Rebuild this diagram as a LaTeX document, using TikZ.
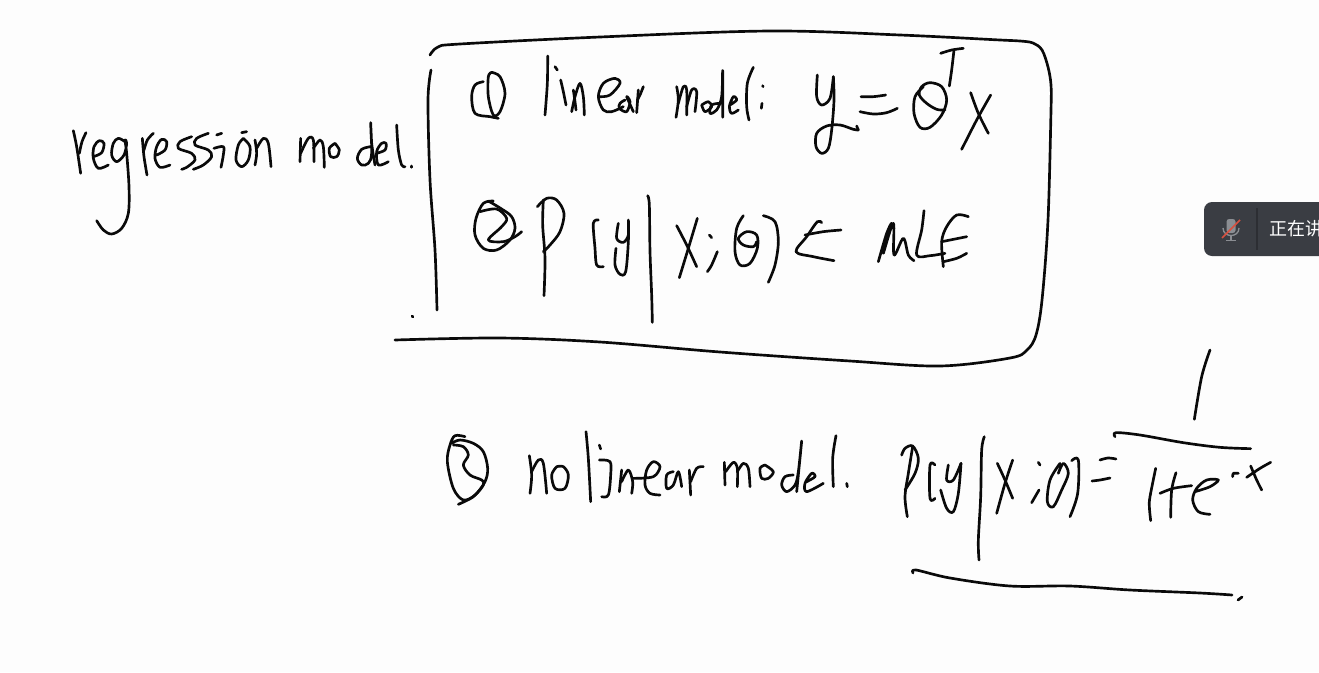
\documentclass[tikz,border=0pt]{standalone}
\usepackage{fontspec}
\newfontfamily\cjkfont{Noto Sans CJK SC}
\definecolor{paper}{HTML}{FDFDFD}
\definecolor{inkc}{HTML}{0A0A0A}
\definecolor{barc}{HTML}{3A3D43}
\definecolor{sepc}{HTML}{2C2E33}
\definecolor{micc}{HTML}{8A8D92}
\definecolor{slashc}{HTML}{D9503F}
\tikzset{
  inkline/.style={draw=inkc,line width=2pt,line cap=round,line join=round},
  zoomed/.style={shift={#1},scale=0.33333}
}
\newcommand\inkstroke[1]{\draw[inkline] plot[smooth,tension=0.55] coordinates {#1};}
\begin{document}
\begin{tikzpicture}[x=0.75pt,y=-0.75pt]
\useasboundingbox (0,0) rectangle (1319,672);
\clip (0,0) rectangle (1319,672);
\fill[paper] (0,0) rectangle (1319,672);
% big box
\inkstroke{(430,55)(438,47)(460,44)(600,37)(770,31)(900,35)(1000,40)(1020,41)(1033,43)(1042,50)(1048,67)(1051,85)(1051,110)(1048,220)(1042,300)(1036,335)(1027,350)(1010,358)(940,366)(850,361)(720,352)(600,342)(500,338)(395,340)}
\inkstroke{(431,70)(428,100)(430,180)(435,250)(437,310)}
\inkstroke{(412,316)(413,317)}
% regression model.
\begin{scope}[zoomed={(60,110)}]
\inkstroke{(40,62)(50,110)(62,190)}
\inkstroke{(58,130)(66,95)(78,68)}
\inkstroke{(100,140)(125,128)(132,100)(118,92)(102,110)(100,145)(115,175)(145,165)}
\inkstroke{(195,95)(175,85)(160,100)(155,135)(170,155)(192,135)(200,100)(195,90)(200,130)(207,230)(205,310)(185,355)(155,372)(130,360)(110,332)}
\inkstroke{(247,85)(252,140)(261,195)}
\inkstroke{(252,120)(262,90)(280,70)}
\inkstroke{(290,135)(315,120)(320,95)(305,88)(290,110)(285,145)(300,172)(330,165)}
\inkstroke{(395,80)(360,95)(355,115)(395,130)(405,150)(380,172)(365,178)}
\inkstroke{(445,70)(410,85)(405,105)(445,120)(455,140)(430,165)(400,178)}
\inkstroke{(462,115)(490,110)(490,135)(483,172)}
\inkstroke{(470,75)(485,70)}
\inkstroke{(550,85)(535,105)(528,150)(545,170)(565,150)(570,110)(550,85)}
\inkstroke{(545,68)(560,65)}
\inkstroke{(585,90)(590,130)(585,165)}
\inkstroke{(590,115)(610,85)(625,100)(633,170)}
\inkstroke{(722,85)(720,155)}
\inkstroke{(722,130)(745,85)(760,90)(762,155)}
\inkstroke{(760,115)(780,90)(790,110)(793,172)}
\inkstroke{(825,100)(808,115)(812,140)(830,140)(838,120)(825,100)}
\inkstroke{(932,110)(905,118)(892,145)(905,165)(925,160)(935,130)(932,38)(935,100)(945,165)}
\inkstroke{(950,130)(975,120)(978,100)(965,100)(950,125)(955,165)(985,155)}
\inkstroke{(1010,45)(1015,120)(1025,165)(1035,170)}
\inkstroke{(1054,168)(1054,172)}
\end{scope}
% circled 1, linear model
\begin{scope}[zoomed={(460,40)}]
\inkstroke{(70,125)(45,135)(35,170)(45,220)(90,230)(115,235)}
\inkstroke{(95,97)(120,110)(135,160)(120,215)(100,225)(85,170)(85,110)(95,97)}
\inkstroke{(263,48)(262,130)(255,225)}
\inkstroke{(285,80)(292,90)}
\inkstroke{(302,120)(310,155)(318,195)}
\inkstroke{(335,215)(345,170)(360,130)(370,170)(373,225)}
\inkstroke{(340,150)(345,185)(348,210)}
\inkstroke{(420,170)(450,165)(480,130)(465,115)(430,130)(415,170)(430,210)(455,215)(490,200)}
\inkstroke{(495,180)(480,190)(478,205)(500,215)(510,185)(500,170)(520,215)}
\inkstroke{(535,150)(530,218)}
\inkstroke{(532,180)(540,165)(550,140)}
\inkstroke{(650,140)(655,180)(648,232)}
\inkstroke{(655,190)(670,140)(680,150)(680,225)}
\inkstroke{(680,200)(695,150)(710,155)(705,215)}
\inkstroke{(725,195)(735,215)(755,200)(745,185)(725,195)}
\inkstroke{(780,190)(755,195)(750,220)(770,210)(785,170)(788,92)(788,232)}
\inkstroke{(810,195)(830,180)(820,170)(808,200)(815,220)(835,210)}
\inkstroke{(880,82)(862,130)(860,200)(867,240)}
\end{scope}
% colon, y = theta^T x
\begin{scope}[zoomed={(760,40)}]
\inkstroke{(8,137)(9,140)}
\inkstroke{(6,190)(4,205)}
\inkstroke{(172,105)(170,170)(185,195)(210,175)(220,110)}
\inkstroke{(220,110)(222,180)(215,270)(205,325)(185,340)(168,320)(170,280)(200,258)(240,255)(280,268)(295,270)}
\inkstroke{(290,258)(295,270)}
\inkstroke{(303,170)(340,170)(377,165)}
\inkstroke{(300,215)(340,222)(380,218)(412,205)}
\inkstroke{(490,140)(465,170)(462,220)(480,262)(510,262)(545,225)(560,180)(545,140)(510,128)(485,140)(478,165)(500,190)(530,208)(555,210)}
\inkstroke{(542,40)(575,30)(610,25)}
\inkstroke{(582,30)(575,90)(568,138)}
\inkstroke{(632,158)(655,220)(685,280)}
\inkstroke{(692,165)(650,240)(605,328)}
\end{scope}
% circled 2, P(y|x;theta)
\begin{scope}[zoomed={(460,185)}]
\inkstroke{(100,48)(70,55)(48,100)(45,150)(70,190)(110,195)(150,165)(165,130)(155,95)(125,72)(85,48)}
\inkstroke{(60,80)(110,72)(140,100)(125,125)(85,165)(130,170)(165,155)(185,140)}
\inkstroke{(250,45)(248,120)(255,220)(252,332)}
\inkstroke{(232,65)(260,40)(290,45)(312,85)(300,140)(270,180)(250,200)}
\inkstroke{(415,105)(400,115)(405,190)(410,240)(430,245)}
\inkstroke{(475,115)(470,160)(490,172)(505,150)(505,105)(505,170)(497,260)(480,268)(465,240)(468,190)}
\inkstroke{(563,32)(568,60)(570,200)(575,330)(577,412)}
\inkstroke{(650,122)(680,180)(710,245)}
\inkstroke{(712,100)(685,190)(658,278)}
\inkstroke{(748,150)(755,158)}
\inkstroke{(772,200)(755,240)(742,260)}
\inkstroke{(850,92)(830,130)(825,200)(840,240)(870,235)(892,190)(890,150)(860,140)(835,160)(850,180)(880,185)(890,170)}
\inkstroke{(910,92)(945,110)(955,170)(945,240)(925,292)}
\end{scope}
% <- MLE
\begin{scope}[zoomed={(780,200)}]
\inkstroke{(183,90)(130,95)(75,105)}
\inkstroke{(125,68)(112,65)(80,110)(48,155)(100,170)(162,182)}
\inkstroke{(295,185)(320,100)(335,72)(310,160)(340,70)(342,165)(370,115)(385,165)(402,182)}
\inkstroke{(432,32)(425,90)(410,165)(450,167)(495,160)}
\inkstroke{(565,50)(530,45)(500,80)(485,125)(490,200)}
\inkstroke{(485,125)(560,110)}
\inkstroke{(490,185)(530,175)(560,160)}
\end{scope}
% circled 3, nonlinear model.
\begin{scope}[zoomed={(440,425)}]
\inkstroke{(75,35)(45,32)(30,60)(22,110)(40,190)(70,225)(105,210)(135,170)(143,130)(130,80)(100,55)(60,45)(35,55)}
\inkstroke{(40,60)(70,65)(85,90)(70,120)(90,150)(125,165)(130,180)(100,215)(55,238)}
\inkstroke{(268,92)(275,150)(270,205)}
\inkstroke{(275,140)(295,105)(310,115)(320,205)}
\inkstroke{(350,125)(335,150)(345,190)(375,190)(385,150)(370,125)(350,125)}
\inkstroke{(438,20)(445,100)(452,230)}
\inkstroke{(478,60)(482,72)}
\inkstroke{(478,105)(510,110)(512,150)(505,210)(485,215)}
\inkstroke{(545,135)(538,200)}
\inkstroke{(545,170)(565,135)(578,170)(575,205)}
\inkstroke{(580,160)(640,155)(660,125)(640,110)(620,135)(615,180)(630,205)(660,210)}
\inkstroke{(700,140)(680,150)(680,190)(700,180)(715,140)(725,185)}
\inkstroke{(748,135)(752,210)}
\inkstroke{(752,170)(770,130)(790,125)}
\inkstroke{(853,112)(855,180)}
\inkstroke{(857,140)(880,112)(892,130)(892,185)}
\inkstroke{(892,140)(910,115)(925,130)(930,185)}
\inkstroke{(975,120)(960,130)(965,160)(985,160)(1000,140)(975,120)}
\inkstroke{(1060,150)(1035,155)(1025,180)(1040,200)(1065,180)(1075,140)(1085,48)(1070,200)}
\inkstroke{(1100,170)(1125,155)(1115,145)(1095,175)(1100,200)(1150,175)}
\inkstroke{(1188,32)(1178,100)(1180,185)}
\inkstroke{(1220,175)(1222,185)}
\end{scope}
% P[y|x;theta]
\begin{scope}[zoomed={(890,430)}]
\inkstroke{(35,75)(45,55)(68,48)(85,85)(75,130)(45,180)}
\inkstroke{(68,50)(55,130)(45,200)(52,260)}
\inkstroke{(135,105)(120,105)(120,205)(135,205)}
\inkstroke{(175,105)(170,150)(190,150)(213,100)}
\inkstroke{(213,100)(205,190)(190,245)(170,235)(152,180)}
\inkstroke{(283,20)(275,60)(272,200)(265,330)(267,390)}
\inkstroke{(322,100)(345,150)(368,205)}
\inkstroke{(368,90)(345,160)(320,250)}
\inkstroke{(445,97)(450,105)}
\inkstroke{(447,180)(425,218)}
\inkstroke{(510,100)(480,150)(472,215)(490,230)(515,180)(535,130)(520,100)(505,130)}
\inkstroke{(545,92)(565,90)(563,190)(540,260)}
\end{scope}
% = and fraction
\inkstroke{(1100,460)(1108,458)(1116,459)}
\inkstroke{(1092,481)(1100,480)(1110,478)}
\begin{scope}[zoomed={(1100,340)}]
\inkstroke{(330,30)(305,110)(283,238)}
\inkstroke{(45,290)(48,278)(120,285)(250,308)(360,322)(452,326)}
\inkstroke{(167,385)(150,470)(148,500)(152,542)}
\inkstroke{(180,460)(220,445)(275,437)}
\inkstroke{(228,398)(215,450)(212,532)}
\inkstroke{(285,455)(330,440)(355,420)(320,420)(290,445)(278,480)(295,515)(330,523)}
\inkstroke{(398,410)(400,400)(415,400)}
\inkstroke{(440,412)(480,385)(512,367)}
\inkstroke{(452,378)(470,420)(485,450)}
\end{scope}
% long underline
\inkstroke{(913,573)(916,570)(950,578)(1010,586)(1070,586)(1130,590)(1200,593)(1232,595)}
\inkstroke{(1238,600)(1242,597)}
% speaker toolbar
\fill[barc,rounded corners=6pt] (1204,202) rectangle (1340,256);
\draw[sepc,line width=0.8pt] (1257,208) -- (1257,250);
\begin{scope}
\fill[micc,rounded corners=2pt] (1226.5,219) rectangle (1235.5,233);
\draw[micc,line width=1pt] (1223,228) .. controls (1223,238) and (1239,238) .. (1239,228);
\draw[micc,line width=1.1pt] (1231,236) -- (1231,240) (1226,240.5) -- (1236,240.5);
\draw[slashc,line width=1.2pt] (1222,238) -- (1240,220);
\end{scope}
\node[anchor=west,inner sep=0pt,text=white,font=\cjkfont\fontsize{13.5pt}{13.5pt}\selectfont] (speaking) at (1269,229) {正在讲};
\end{tikzpicture}
\end{document}
